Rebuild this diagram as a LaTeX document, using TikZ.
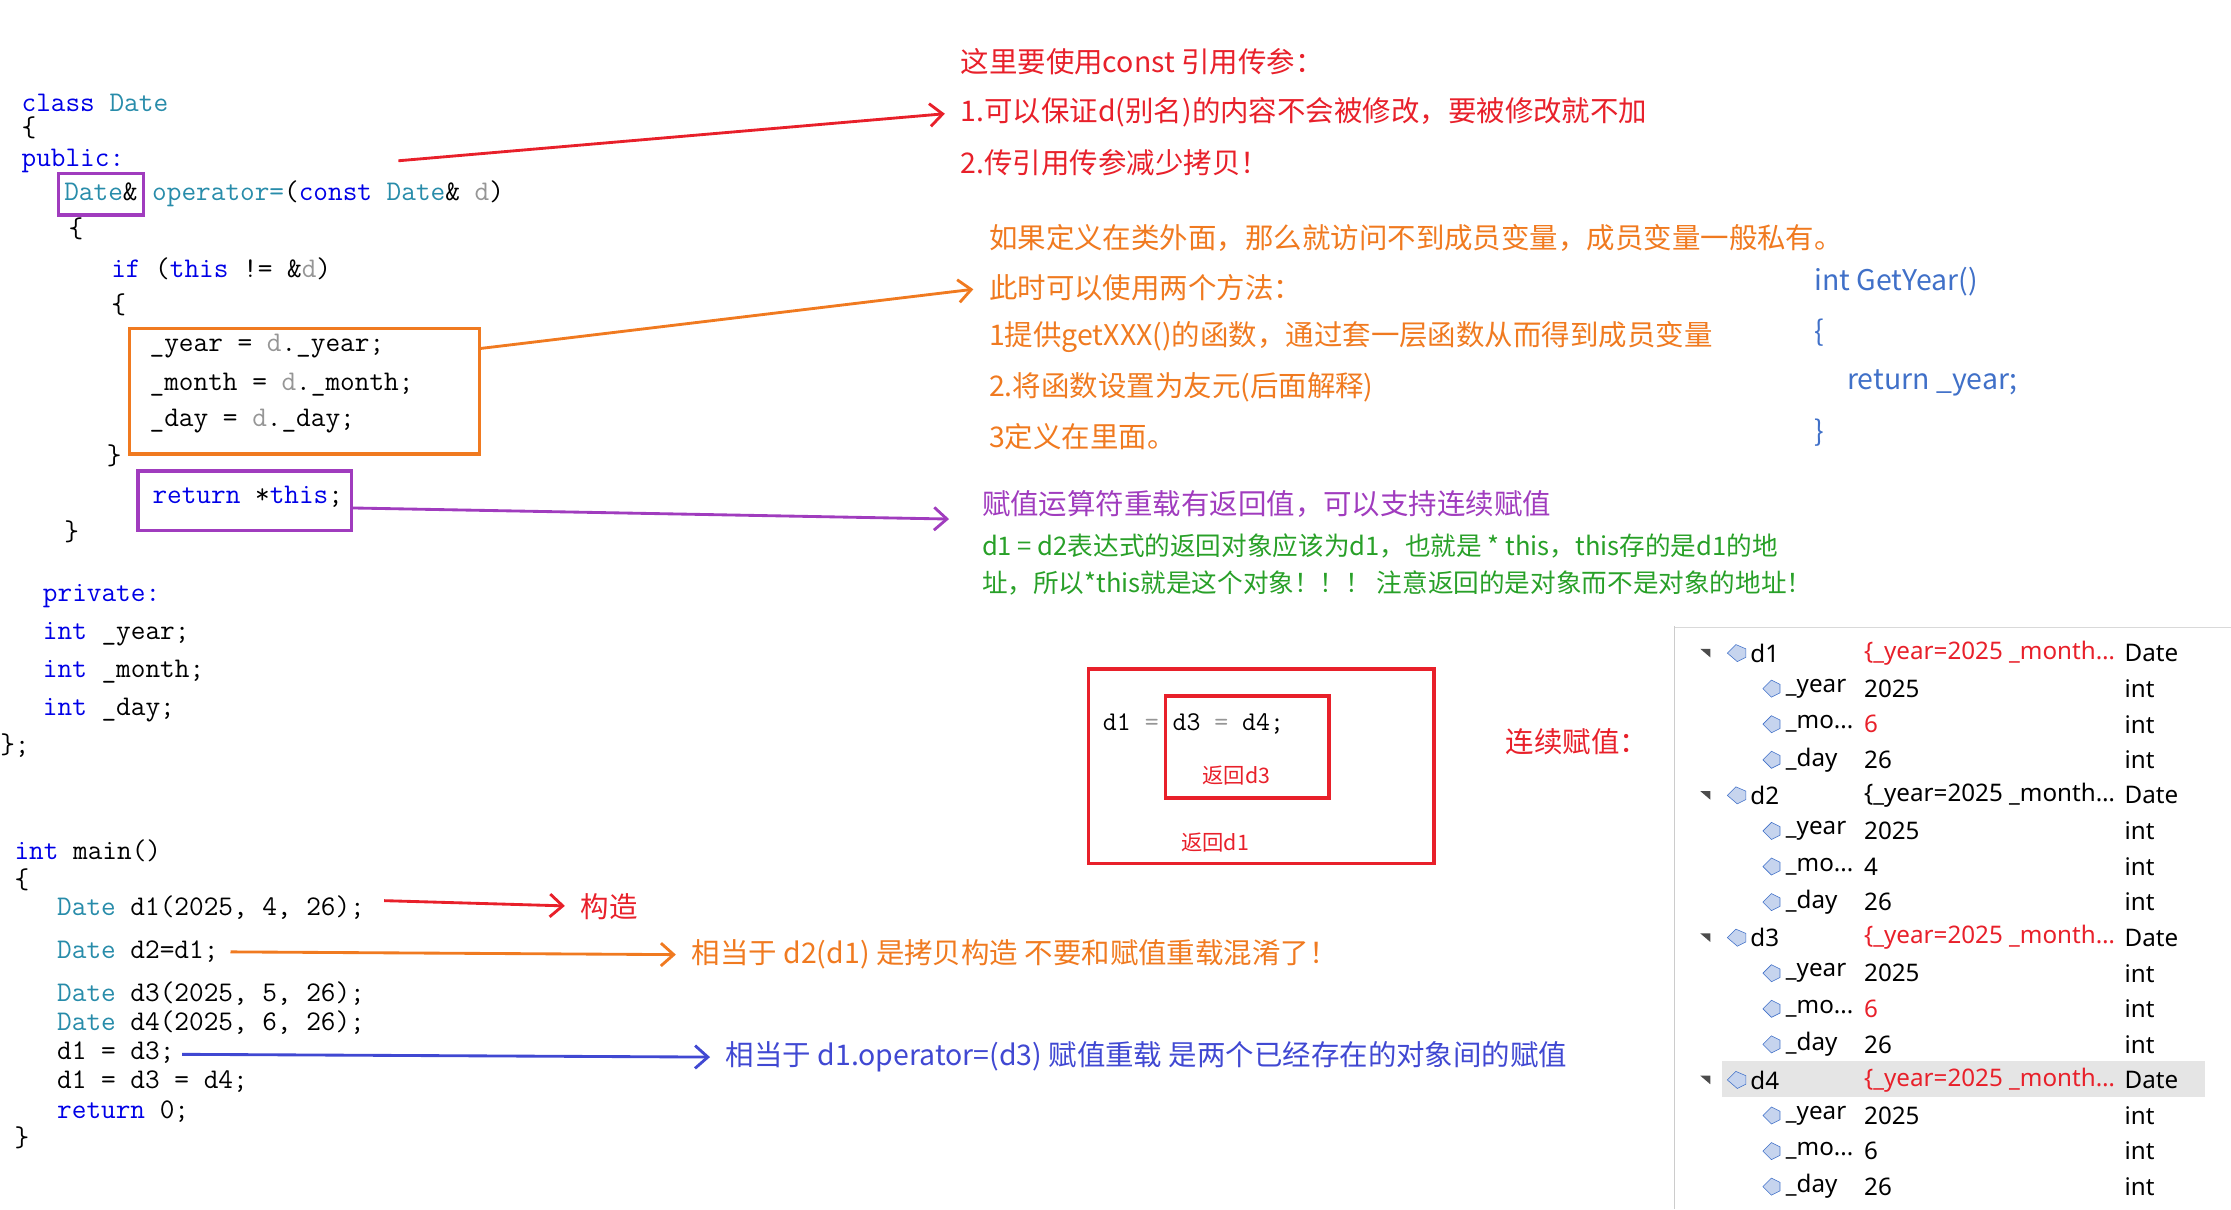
\documentclass[tikz,border=0pt]{standalone}
\usepackage{fontspec}
\setmainfont{Liberation Serif}
\newfontfamily\cjk{Noto Sans CJK SC}
\newfontfamily\dbg{Noto Sans}
\usetikzlibrary{arrows.meta}
\definecolor{kw}{RGB}{0,0,230}
\definecolor{ty}{RGB}{40,140,170}
\definecolor{an}{RGB}{232,32,42}
\definecolor{ao}{RGB}{240,122,32}
\definecolor{ap}{RGB}{160,60,190}
\definecolor{ag}{RGB}{40,160,40}
\definecolor{ab}{RGB}{64,72,210}
\definecolor{lb}{RGB}{64,112,200}
\definecolor{gr}{RGB}{150,150,150}
\newcommand\mydots{\_mo...}
\begin{document}
\begin{tikzpicture}[x=1pt,y=-1pt,
 code/.style={anchor=west,inner sep=0pt,font=\fontsize{20}{22}\ttfamily},
 note/.style={anchor=west,inner sep=0pt,font=\fontsize{20}{22}\cjk},
 dt/.style={anchor=west,inner sep=0pt,font=\fontsize{17}{19}\dbg},
 arr/.style={line width=2pt,shorten >=11pt,-{Straight Barb[length=9pt,width=16pt,line width=2pt]}},
 bx/.style={line width=2.5pt}]
\useasboundingbox (0,0) rectangle (1568,850);
% code
\node[code,kw] (c1) at (15,72) {class \textcolor{ty}{Date}};
\node[code] (c2) at (15,90) {\{};
\node[code,kw] (c3) at (15,113) {public:};
\node[code] (c4) at (45,136) {\textcolor{ty}{Date}\& \textcolor{ty}{operator=}(\textcolor{kw}{const} \textcolor{ty}{Date}\& \textcolor{gr}{d})};
\draw[ap,bx] (41,122) rectangle (101,151);
\node[code] (c5) at (48,161) {\{};
\node[code] (c6) at (78,189) {\textcolor{kw}{if} (\textcolor{kw}{this} != \&\textcolor{gr}{d})};
\node[code] (c7) at (78,214) {\{};
\node[code] (c8) at (105,243) {\_year = \textcolor{gr}{d}.\_year;};
\node[code] (c9) at (105,270) {\_month = \textcolor{gr}{d}.\_month;};
\node[code] (c10) at (105,296) {\_day = \textcolor{gr}{d}.\_day;};
\draw[ao,bx] (91,231) rectangle (337,319);
\coordinate (ob) at (337,245);
\node[code] (c11) at (75,320) {\}};
\node[code] (c12) at (107,349) {\textcolor{kw}{return} *\textcolor{kw}{this};};
\draw[ap,bx] (97,331) rectangle (247,373);
\coordinate (pb) at (247,357);
\node[code] (c13) at (45,374) {\}};
\node[code,kw] at (30,419) {private:};
\node[code] at (30,446) {\textcolor{kw}{int} \_year;};
\node[code] at (30,472) {\textcolor{kw}{int} \_month;};
\node[code] at (30,499) {\textcolor{kw}{int} \_day;};
\node[code] at (0,524) {\};};
\node[code] at (10,598) {\textcolor{kw}{int} main()};
\node[code] at (10,618) {\{};
\node[code] (m1) at (40,638) {\textcolor{ty}{Date} d1(2025, 4, 26);};
\node[code] (m2) at (40,669) {\textcolor{ty}{Date} d2=d1;};
\node[code] at (40,698) {\textcolor{ty}{Date} d3(2025, 5, 26);};
\node[code] at (40,719) {\textcolor{ty}{Date} d4(2025, 6, 26);};
\node[code] (m5) at (40,740) {d1 = d3;};
\node[code] at (40,760) {d1 = d3 = d4;};
\node[code] at (40,781) {\textcolor{kw}{return} 0;};
\node[code] at (10,800) {\}};
% annotations
\coordinate (ra) at (280,113);
\node[note,an] (r1) at (675,43) {这里要使用const 引用传参：};
\node[note,an] (r2) at (675,79) {1.可以保证d(别名)的内容不会被修改，要被修改就不加};
\node[note,an] (r3) at (675,114) {2.传引用传参减少拷贝！};
\draw[an,arr] (ra) -- (r2.west);
\node[note,ao] at (695,167) {如果定义在类外面，那么就访问不到成员变量，成员变量一般私有。};
\node[note,ao] (o2) at (695,202) {此时可以使用两个方法：};
\node[note,ao] at (695,237) {1提供getXXX()的函数，通过套一层函数从而得到成员变量};
\node[note,ao] at (695,272) {2.将函数设置为友元(后面解释)};
\node[note,ao] at (695,307) {3定义在里面。};
\draw[ao,arr] (ob) -- (o2.west);
\node[note,lb] at (1275,198) {int GetYear()};
\node[note,lb] at (1275,234) {\{};
\node[note,lb] at (1298,269) {return \_year;};
\node[note,lb] at (1275,304) {\}};
\node[note,ap] (p1) at (690,354) {赋值运算符重载有返回值，可以支持连续赋值};
\coordinate (pe) at (678,365);
\draw[ap,arr] (pb) -- (pe);
\node[note,ag,font=\fontsize{18}{20}\cjk] at (690,384) {d1 = d2表达式的返回对象应该为d1，也就是 * this，this存的是d1的地};
\node[note,ag,font=\fontsize{18}{20}\cjk] at (690,410) {址，所以*this就是这个对象！！！ 注意返回的是对象而不是对象的地址！};
% boxes
\draw[an,bx] (765,470) rectangle (1008,607);
\draw[an,bx] (819,489) rectangle (934,561);
\node[code,font=\fontsize{19}{21}\ttfamily] at (775,509) {d1 \textcolor{gr}{=} d3 \textcolor{gr}{=} d4;};
\node[note,an,font=\fontsize{15}{17}\cjk] at (845,545) {返回d3};
\node[note,an,font=\fontsize{15}{17}\cjk] at (830,592) {返回d1};
\node[note,an] at (1058,521) {连续赋值：};
% main arrows
\node[note,an] (k1) at (408,637) {构造};
\draw[an,arr] (270,633) -- (k1.west);
\node[note,ao] (k2) at (486,671) {相当于 d2(d1) 是拷贝构造 不要和赋值重载混淆了！};
\draw[ao,arr] (162,669) -- (k2.west);
\node[note,ab] (k3) at (510,743) {相当于 d1.operator=(d3) 赋值重载 是两个已经存在的对象间的赋值};
\draw[ab,arr] (128,741) -- (k3.west);
% debugger
\draw[gray!40,line width=1pt] (1177,440) -- (1177,850);
\draw[gray!30] (1177,441) -- (1568,441);
\fill[gray!20] (1210,746) rectangle (1550,771);
\foreach \n/\y/\c in {d1/459/an,d2/559/black,d3/659/an,d4/759/an}{
  \fill[black!70] (1195,\y-3) -- (1202,\y-3) -- (1202,\y+3) -- cycle;
  \draw[lb,fill=lb!30] (1214,\y) -- (1220,\y-6) -- (1227,\y-3) -- (1227,\y+3) -- (1221,\y+6) -- cycle;
  \node[dt] at (1230,\y) {\n};
  \node[dt,\c] at (1310,\y) {\{\_year=2025 \_month\ldots};
  \node[dt] at (1493,\y) {Date};
}
\foreach \y/\v/\c in {484/2025/black,509/6/an,534/26/black,584/2025/black,609/4/black,634/26/black,684/2025/black,709/6/an,734/26/black,784/2025/black,809/6/black,834/26/black}{
  \node[dt,\c] at (1310,\y) {\v};
  \node[dt] at (1493,\y) {int};
}
\foreach \s in {0,100,200,300}{
  \foreach \y/\nm in {484/\_year,509/\mydots,534/\_day}{
    \draw[lb,fill=lb!30] (1239,\y+\s) -- (1245,\y+\s-6) -- (1251,\y+\s-3) -- (1251,\y+\s+3) -- (1245,\y+\s+6) -- cycle;
    \node[dt] at (1255,\y+\s) {\nm};
  }
}
\end{tikzpicture}
\end{document}
